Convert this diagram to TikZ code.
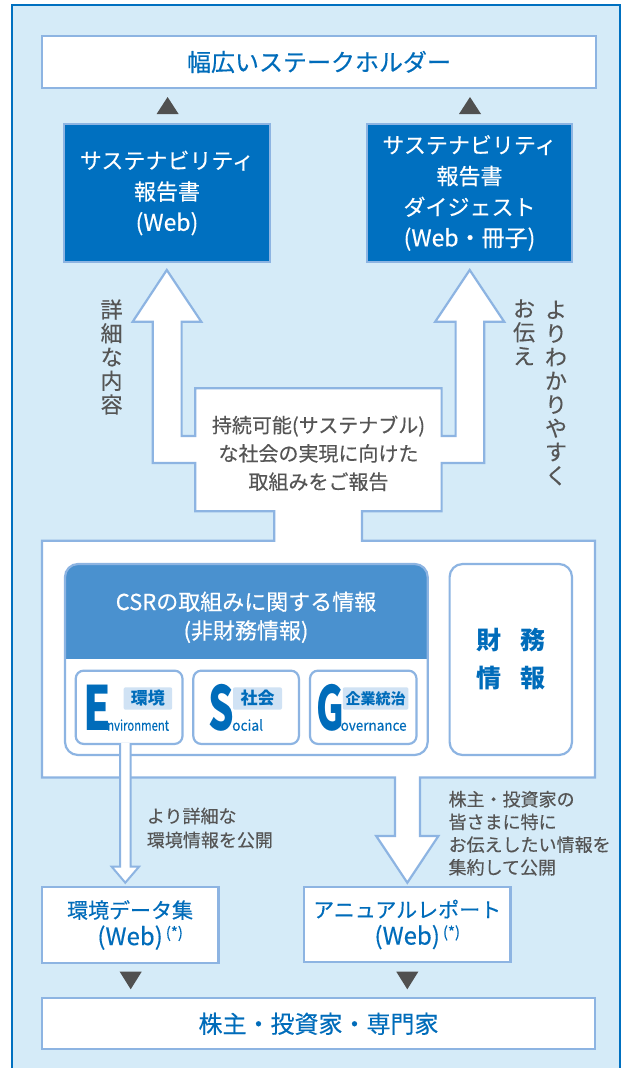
\documentclass[tikz,border=0pt]{standalone}
\usepackage{graphicx}
\usepackage{fontspec}
\setmainfont{Noto Sans CJK JP}[UprightFeatures={FakeBold=0.35}]
\definecolor{bgblue}{RGB}{213,235,248}
\definecolor{frameblue}{RGB}{0,112,192}
\definecolor{lineblue}{RGB}{141,180,226}
\definecolor{darkbox}{RGB}{0,112,192}
\definecolor{hdrblue}{RGB}{74,145,207}
\definecolor{tagblue}{RGB}{208,226,244}
\definecolor{txtblue}{RGB}{0,108,186}
\definecolor{txtgray}{RGB}{85,85,85}
\definecolor{trigray}{RGB}{80,80,80}
\newcommand{\webstar}{(Web)\rlap{\hspace{3pt}\raisebox{7pt}{\fontsize{15}{15}\selectfont(*)}}}
\begin{document}
\begin{tikzpicture}[x=1pt,y=-1pt,
  ol/.style={draw=lineblue, line width=2.2pt},
  wbox/.style={ol, fill=white, rectangle, inner sep=0pt, text=txtblue, align=center},
  dbox/.style={ol, fill=darkbox, rectangle, inner sep=0pt, text=white, align=center, font=\fontsize{22}{31}\selectfont},
  rbox/.style={ol, fill=white, rectangle, rounded corners=8, inner sep=0pt},
  tri/.style={fill=trigray},
  gtext/.style={text=txtgray, inner sep=0pt},
  vtext/.style={gtext, align=center, font=\fontsize{22}{23.7}\selectfont},
  bigL/.style={anchor=base west, inner sep=0pt, text=txtblue, font=\fontsize{61}{61}\selectfont\bfseries},
  smallL/.style={anchor=base west, inner sep=0pt, text=txtblue, font=\fontsize{14.5}{14.5}\selectfont},
  tag/.style={fill=tagblue, rounded corners=2, inner sep=0pt, minimum height=22.4, text=txtblue, font=\fontsize{17}{17}\selectfont\bfseries},
]
\useasboundingbox (0,0) rectangle (625,1068);
% background frame
\fill[bgblue] (12,5) rectangle (620,1068);
\draw[frameblue, line width=2.2pt] (12,1068) -- (12,5) -- (620,5) -- (620,1068);

% top stakeholder box
\node[wbox, minimum width=554, minimum height=52, font=\fontsize{24}{24}\selectfont] (top) at (319,62) {幅広いステークホルダー};

% triangles up
\fill[tri] (156.6,114) -- (167.6,97) -- (178.6,114) -- cycle;
\fill[tri] (459,114) -- (470,97) -- (481,114) -- cycle;

% dark boxes
\node[dbox, minimum width=206, minimum height=138] (sr1) at (167,193) {サステナビリティ\\報告書\\{\fontsize{23}{31}\selectfont(Web)}};
\node[dbox, minimum width=205, minimum height=138] (sr2) at (469.5,193) {サステナビリティ\\報告書\\ダイジェスト\\{\fontsize{23}{31}\selectfont(Web・冊子)}};

% big white arrow shape and main box
\draw[ol, fill=white, line join=miter]
 (166.8,270) -- (201.3,321.7) -- (181.6,321.7) -- (181.6,436) -- (195.2,436) -- (195.2,388.3)
 -- (441.6,388.3) -- (441.6,436) -- (455.6,436) -- (455.6,321.7) -- (435.2,321.7) -- (469.7,270)
 -- (504.2,321.7) -- (484.3,321.7) -- (484.3,463) -- (441.6,463) -- (441.6,511.3) -- (361.9,511.3)
 -- (361.9,540.7) -- (595,540.7) -- (595,777.5) -- (420,777.5) -- (420,836) -- (438.4,836)
 -- (407.3,882.7) -- (376.2,836) -- (395,836) -- (395,777.5) -- (42,777.5) -- (42,540.7)
 -- (274.2,540.7) -- (274.2,511.3) -- (195.2,511.3) -- (195.2,463) -- (152.8,463) -- (152.8,321.7)
 -- (132.7,321.7) -- cycle;

% middle text
\node[gtext, align=center, font=\fontsize{20}{28.3}\selectfont] (mid) at (318.5,453.3) {持続可能(サステナブル)\\な社会の実現に向けた\\取組みをご報告};

% vertical texts
\node[vtext] (vl) at (111.6,357) {詳\\細\\な\\内\\容};
\node[vtext] (vr1) at (556,393) {よ\\り\\わ\\か\\り\\や\\す\\く};
\node[vtext] (vr2) at (524,332.3) {お\\伝\\え};

% CSR frame
\begin{scope}
\clip[rounded corners=13] (65,564) rectangle (427.7,755);
\fill[white] (65,564) rectangle (427.7,755);
\fill[hdrblue] (65,564) rectangle (427.7,659.3);
\end{scope}
\draw[ol, rounded corners=13] (65,564) rectangle (427.7,755);
\node[text=white, align=center, inner sep=0pt, font=\fontsize{22}{28.7}\selectfont] (csr) at (246,617.3) {CSRの取組みに関する情報\\(非財務情報)};

% E S G boxes
\node[rbox, minimum width=106.8, minimum height=73.3] (ebox) at (129.1,707.3) {};
\node[rbox, minimum width=105.6, minimum height=73.3] (sbox) at (246.1,707.3) {};
\node[rbox, minimum width=106.5, minimum height=73.3] (gbox) at (363.25,707.3) {};
\node[bigL] (eL) at (83.5,730.7) {\scalebox{0.72}[1]{E}};
\node[smallL] (eW) at (107,730.7) {\scalebox{0.78}[1]{nvironment}};
\node[bigL] (sL) at (208.5,730.7) {\scalebox{0.66}[1]{S}};
\node[smallL] (sW) at (232,730.7) {\scalebox{0.95}[1]{ocial}};
\node[bigL] (gL) at (316.5,730.7) {\scalebox{0.62}[1]{G}};
\node[smallL] (gW) at (340.5,730.7) {\scalebox{0.93}[1]{overnance}};
\node[tag, minimum width=48.6] (etag) at (147.9,698.5) {環境};
\node[tag, minimum width=49] (stag) at (257.5,698.5) {社会};
\node[tag, minimum width=65.7, font=\fontsize{15}{15}\selectfont\bfseries] (gtag) at (375.6,698.5) {企業統治};

% financial info box
\node[ol, fill=white, rectangle, rounded corners=13, minimum width=122.4, minimum height=191, inner sep=0pt] (fin) at (510.8,659.5) {};
\node[text=txtblue, align=center, inner sep=0pt, font=\fontsize{25}{38}\selectfont\bfseries] (fintxt) at (510.8,659) {財\hspace{19pt}務\\情\hspace{19pt}報};

% thin arrow from E box
\draw[ol, line width=2pt, fill=white, line join=miter] (120,743) -- (120,866.7) -- (111.7,866.7) -- (125.3,882.7) -- (139,866.7) -- (130.7,866.7) -- (130.7,743);

% gray notes
\node[gtext, anchor=west, align=left, font=\fontsize{18}{24}\selectfont] (n1) at (146.7,828) {より詳細な\\環境情報を公開};
\node[gtext, anchor=west, align=left, font=\fontsize{18}{22.7}\selectfont] (n2) at (448.4,833.3) {株主・投資家の\\皆さまに特に\\お伝えしたい情報を\\集約して公開};

% lower boxes
\node[wbox, minimum width=176.6, minimum height=75.4, font=\fontsize{21}{27}\selectfont] (envd) at (130.1,925) {環境データ集\\{\fontsize{24}{27}\selectfont\webstar}};
\node[wbox, minimum width=206.5, minimum height=74.4, font=\fontsize{21}{27}\selectfont] (ar) at (407.2,924.5) {アニュアルレポート\\{\fontsize{24}{27}\selectfont\webstar}};

% triangles down
\fill[tri] (119.7,971.7) -- (141.7,971.7) -- (130.7,989.3) -- cycle;
\fill[tri] (396.3,971.7) -- (418.3,971.7) -- (407.3,989.3) -- cycle;

% bottom box
\node[wbox, minimum width=553, minimum height=51, font=\fontsize{24}{24}\selectfont] (bot) at (318.5,1023.8) {株主・投資家・専門家};
\end{tikzpicture}
\end{document}
